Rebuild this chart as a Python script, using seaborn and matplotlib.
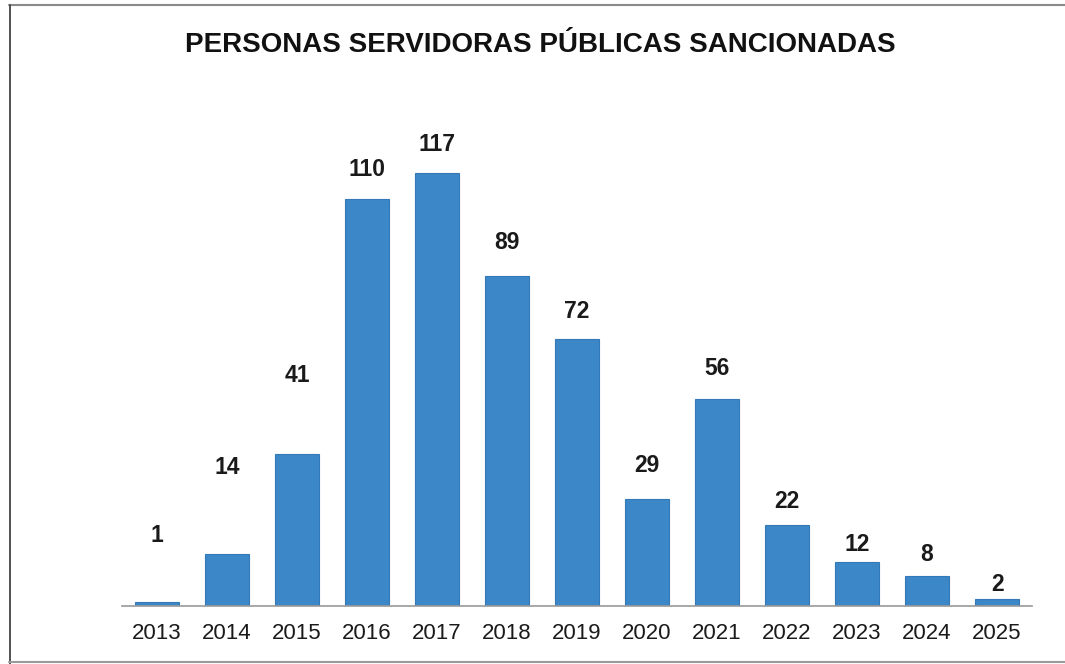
import numpy as np
import pandas as pd
import matplotlib
matplotlib.use('Agg')
import matplotlib.pyplot as plt
import seaborn as sns
from matplotlib.lines import Line2D

# data
years = ['2013', '2014', '2015', '2016', '2017', '2018', '2019',
         '2020', '2021', '2022', '2023', '2024', '2025']
sancionadas = [1, 14, 41, 110, 117, 89, 72, 29, 56, 22, 12, 8, 2]

# label offset above each bar top (pixels), as placed in the original
label_offsets = [67, 87, 79, 29, 28, 34, 28, 33, 30, 23, 17, 22, 14]

df = pd.DataFrame({'year': years, 'n': sancionadas})

sns.set_style('white')
plt.rcParams['font.family'] = ['Liberation Sans', 'DejaVu Sans']

fig = plt.figure(figsize=(10.65, 6.64), dpi=100)
ax = fig.add_axes([0.1146, 0.0873, 0.8545, 0.725])

sns.barplot(data=df, x='year', y='n', color='#3b87c8', saturation=1,
            width=0.64, edgecolor='#3379b8', linewidth=0.8, ax=ax)

ax.set_ylim(0, 130)
ax.set_xlim(-0.5, 12.5)
ax.set_xlabel('')
ax.set_ylabel('')
ax.set_yticks([])
for s in ['top', 'left', 'right']:
    ax.spines[s].set_visible(False)
ax.spines['bottom'].set_color('#9a9a9a')
ax.spines['bottom'].set_linewidth(1.2)
ax.tick_params(axis='x', length=0, pad=12, labelsize=16, labelcolor='#1a1a1a')

for i, v in enumerate(sancionadas):
    ax.annotate(str(v), xy=(i, v), xytext=(0, label_offsets[i]),
                textcoords='offset pixels', ha='center', va='center',
                fontsize=16.5, fontweight='bold', color='#1a1a1a')

fig.text(0.507, 0.932, 'PERSONAS SERVIDORAS PÚBLICAS SANCIONADAS',
         ha='center', va='center', fontsize=20, fontweight='bold', color='#111111')

# outer frame of the scanned chart
fig.add_artist(Line2D([9 / 1065, 1], [1 - 5 / 664, 1 - 5 / 664], color='#8a8a8a',
                      linewidth=1.5, transform=fig.transFigure))
fig.add_artist(Line2D([10 / 1065, 10 / 1065], [0, 1 - 5 / 664], color='#444444',
                      linewidth=1.3, transform=fig.transFigure))
fig.add_artist(Line2D([9 / 1065, 1], [1 - 662 / 664, 1 - 662 / 664], color='#9a9a9a',
                      linewidth=1.5, transform=fig.transFigure))

fig.savefig('out.png', dpi=100)
